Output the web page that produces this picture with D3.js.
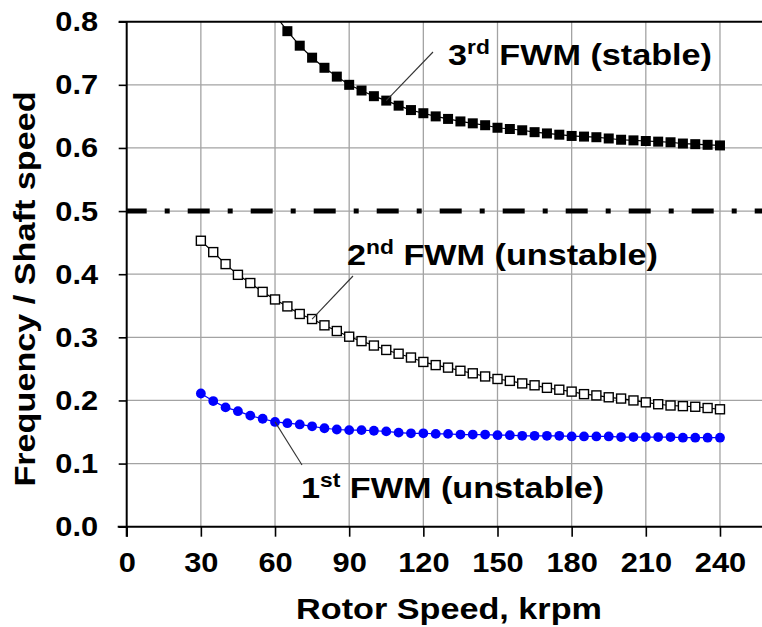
<!DOCTYPE html>
<html>
<head>
<meta charset="utf-8">
<script src="https://cdn.jsdelivr.net/npm/d3@7/dist/d3.min.js"></script>
<style>
  html, body { margin: 0; padding: 0; background: #fff; }
  svg { display: block; }
  text { font-family: Arial, "Liberation Sans", Helvetica, sans-serif; font-weight: bold; fill: #000; }
</style>
</head>
<body>
<svg id="chart" width="762" height="627"></svg>
<script>
// Rotor speed samples (krpm) and frequency ratios of the three forward whirl modes
const speed1 = [30,35,40,45,50,55,60,65,70,75,80,85,90,95,100,105,110,115,120,125,130,135,140,145,150,155,160,165,170,175,180,185,190,195,200,205,210,215,220,225,230,235,240];
const fwm1 = [0.211,0.199,0.189,0.183,0.176,0.171,0.166,0.164,0.162,0.159,0.156,0.154,0.153,0.153,0.152,0.151,0.149,0.148,0.148,0.147,0.147,0.146,0.146,0.146,0.145,0.145,0.144,0.144,0.144,0.144,0.143,0.143,0.143,0.143,0.142,0.142,0.142,0.142,0.142,0.141,0.141,0.141,0.141];

const speed2 = [30,35,40,45,50,55,60,65,70,75,80,85,90,95,100,105,110,115,120,125,130,135,140,145,150,155,160,165,170,175,180,185,190,195,200,205,210,215,220,225,230,235,240];
const fwm2 = [0.453,0.435,0.416,0.399,0.386,0.372,0.360,0.349,0.337,0.329,0.319,0.310,0.301,0.294,0.287,0.280,0.274,0.268,0.261,0.256,0.252,0.247,0.243,0.238,0.234,0.231,0.227,0.224,0.220,0.217,0.214,0.210,0.208,0.205,0.203,0.200,0.197,0.194,0.192,0.191,0.190,0.188,0.186];

const speed3 = [60,65,70,75,80,85,90,95,100,105,110,115,120,125,130,135,140,145,150,155,160,165,170,175,180,185,190,195,200,205,210,215,220,225,230,235,240];
const fwm3 = [0.811,0.785,0.762,0.743,0.727,0.713,0.700,0.691,0.682,0.675,0.667,0.660,0.655,0.650,0.646,0.642,0.639,0.636,0.632,0.630,0.628,0.625,0.623,0.621,0.619,0.618,0.617,0.615,0.613,0.612,0.611,0.610,0.609,0.607,0.606,0.605,0.604];

// Half-speed reference line
const halfSpeed = 0.5;

const xTicks = [0,30,60,90,120,150,180,210,240];
const yTicks = [0.0,0.1,0.2,0.3,0.4,0.5,0.6,0.7,0.8];

const xTitle = "Rotor Speed, krpm";
const yTitle = "Frequency / Shaft speed";

const svg = d3.select("#chart");
const plotL = 126.7, plotR = 762, plotT = 21.7, plotB = 526.7;
const stretch = 1.14; // wide bold lettering

const x = d3.scaleLinear().domain([0, 257]).range([plotL, plotR]);
const y = d3.scaleLinear().domain([0, 0.8]).range([plotB, plotT]);

const defs = svg.append("defs");
defs.append("clipPath").attr("id", "plotClip")
  .append("rect").attr("x", plotL).attr("y", plotT).attr("width", plotR - plotL).attr("height", plotB - plotT);

// Grid
const grid = svg.append("g").attr("stroke", "#a3a3a3").attr("stroke-width", 1.3);
grid.selectAll("line.v").data(xTicks.filter(d => d > 0)).join("line").attr("class", "v")
  .attr("x1", d => x(d)).attr("x2", d => x(d)).attr("y1", plotT).attr("y2", plotB);
grid.selectAll("line.h").data(yTicks.filter(d => d > 0 && d < 0.8)).join("line").attr("class", "h")
  .attr("x1", plotL).attr("x2", plotR).attr("y1", d => y(d)).attr("y2", d => y(d));

// Axes
const xAxis = d3.axisBottom(x).tickValues(xTicks).tickFormat(d3.format("d")).tickSize(10).tickPadding(15);
const yAxis = d3.axisLeft(y).tickValues(yTicks).tickFormat(d3.format(".1f")).tickSize(8).tickPadding(18);

const gx = svg.append("g").attr("transform", `translate(0,${plotB})`).call(xAxis);
gx.select(".domain").remove();
gx.selectAll(".tick line").attr("stroke", "#000").attr("stroke-width", 1.6);
gx.selectAll(".tick text").attr("font-size", 28).attr("font-weight", "bold")
  .attr("font-family", "Arial, 'Liberation Sans', sans-serif").attr("fill", "#000")
  .attr("dy", "0.71em").attr("transform", "scale(1.1,1)");

const gy = svg.append("g").attr("transform", `translate(${plotL},0)`).call(yAxis);
gy.select(".domain").remove();
gy.selectAll(".tick line").attr("stroke", "#000").attr("stroke-width", 1.6);
gy.selectAll(".tick text").attr("font-size", 28).attr("font-weight", "bold")
  .attr("font-family", "Arial, 'Liberation Sans', sans-serif").attr("fill", "#000")
  .attr("transform", "scale(1.1,1)");

// Frame lines
svg.append("line").attr("x1", plotL - 9).attr("x2", plotR).attr("y1", plotB).attr("y2", plotB)
  .attr("stroke", "#000").attr("stroke-width", 2);
svg.append("line").attr("x1", plotL).attr("x2", plotL).attr("y1", plotT).attr("y2", plotB + 10)
  .attr("stroke", "#000").attr("stroke-width", 2);
svg.append("line").attr("x1", plotL - 8).attr("x2", plotR).attr("y1", plotT).attr("y2", plotT)
  .attr("stroke", "#000").attr("stroke-width", 2);

const plot = svg.append("g").attr("clip-path", "url(#plotClip)");

// 0.5 reference (dash-dot)
plot.append("line")
  .attr("x1", x(0) - 2).attr("x2", plotR).attr("y1", y(halfSpeed)).attr("y2", y(halfSpeed))
  .attr("stroke", "#000").attr("stroke-width", 5).attr("stroke-dasharray", "22,18,5,18");

const line = d3.line().x(d => x(d[0])).y(d => y(d[1]));

// 3rd FWM: filled black squares
const d3rd = speed3.map((s, i) => [s, fwm3[i]]);
plot.append("path").datum(d3rd).attr("d", line).attr("fill", "none").attr("stroke", "#000").attr("stroke-width", 1.2);
plot.selectAll("rect.m3").data(d3rd).join("rect").attr("class", "m3")
  .attr("x", d => x(d[0]) - 5).attr("y", d => y(d[1]) - 5).attr("width", 10).attr("height", 10).attr("fill", "#000");

// 2nd FWM: open squares
const d2nd = speed2.map((s, i) => [s, fwm2[i]]);
plot.append("path").datum(d2nd).attr("d", line).attr("fill", "none").attr("stroke", "#000").attr("stroke-width", 1.2);
plot.selectAll("rect.m2").data(d2nd).join("rect").attr("class", "m2")
  .attr("x", d => x(d[0]) - 4.5).attr("y", d => y(d[1]) - 4.5).attr("width", 9).attr("height", 9)
  .attr("fill", "#fff").attr("stroke", "#000").attr("stroke-width", 1.4);

// 1st FWM: blue dots
const d1st = speed1.map((s, i) => [s, fwm1[i]]);
plot.append("path").datum(d1st).attr("d", line).attr("fill", "none").attr("stroke", "#0000ff").attr("stroke-width", 1.2);
plot.selectAll("circle.m1").data(d1st).join("circle").attr("class", "m1")
  .attr("cx", d => x(d[0])).attr("cy", d => y(d[1])).attr("r", 4.9).attr("fill", "#0000ff");

// Leader lines from labels to curves
const leaders = [
  { from: [105, fwm3[speed3.indexOf(105)]], to: [433, 52] },
  { from: [75, fwm2[speed2.indexOf(75)]], to: [353, 276] },
  { from: [60, fwm1[speed1.indexOf(60)]], to: [302, 465] }
];
svg.append("g").selectAll("line").data(leaders).join("line")
  .attr("x1", d => x(d.from[0])).attr("y1", d => y(d.from[1]))
  .attr("x2", d => d.to[0]).attr("y2", d => d.to[1])
  .attr("stroke", "#333").attr("stroke-width", 1.1);

// Curve labels with superscript ordinals
function label(px, py, num, sup, rest) {
  const t = svg.append("text").attr("transform", `translate(${px},${py}) scale(${stretch},1)`)
    .attr("font-size", 30);
  t.append("tspan").text(num);
  t.append("tspan").attr("font-size", 20).attr("dy", -11).text(sup);
  t.append("tspan").attr("dy", 11).text(" " + rest);
}
label(448, 65, "3", "rd", "FWM (stable)");
label(347, 265, "2", "nd", "FWM (unstable)");
label(301, 498, "1", "st", "FWM (unstable)");

// Axis titles
svg.append("text").attr("transform", `translate(449,619) scale(${stretch},1)`)
  .attr("text-anchor", "middle").attr("font-size", 30).text(xTitle);
svg.append("text").attr("transform", `translate(35,289) rotate(-90) scale(${stretch},1)`)
  .attr("text-anchor", "middle").attr("font-size", 30).text(yTitle);
</script>
</body>
</html>
